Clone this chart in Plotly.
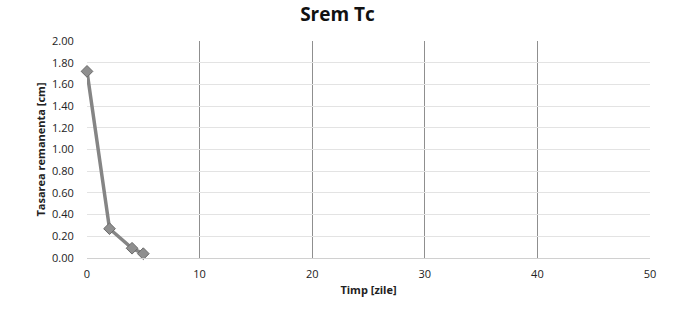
import plotly.graph_objects as go

x_days = [0, 2, 4, 5]
y_tas = [1.72, 0.27, 0.09, 0.04]
x_ticks = [0, 10, 20, 30, 40, 50]
y_ticks = [0.0, 0.2, 0.4, 0.6, 0.8, 1.0, 1.2, 1.4, 1.6, 1.8, 2.0]

fig = go.Figure()
fig.add_trace(go.Scatter(
    x=x_days, y=y_tas, mode="lines+markers", cliponaxis=False,
    line=dict(color="#858585", width=3.5),
    marker=dict(symbol="diamond", size=9, color="#8f8f8f", line=dict(color="#6a6a6a", width=1)),
    showlegend=False,
))
fig.update_layout(
    width=675, height=333,
    margin=dict(l=87, r=25, t=41, b=75),
    paper_bgcolor="white", plot_bgcolor="white",
    font=dict(family="Open Sans, Liberation Sans, sans-serif", color="#222", size=11),
    title=dict(text="<b>Srem Tc</b>", x=0.5, xanchor="center", y=0.957, yanchor="middle",
               font=dict(size=19, color="#111")),
)
fig.update_xaxes(
    range=[0, 50], tickvals=x_ticks, showgrid=True, gridcolor="#8f8f8f", gridwidth=1,
    zeroline=False, showline=True, linecolor="#d0d0d0",
    title=dict(text="<b>Timp [zile]</b>", font=dict(size=11), standoff=6),
    ticks="outside", ticklen=6, tickcolor="rgba(0,0,0,0)", tickfont=dict(size=11),
)
fig.update_yaxes(
    range=[0, 2.0], tickvals=y_ticks, tickformat=".2f", showgrid=True, gridcolor="#e3e3e3",
    zeroline=False, showline=False,
    title=dict(text="<b>Tasarea remanenta [cm]</b>", font=dict(size=11), standoff=4),
    ticks="outside", ticklen=10, tickcolor="rgba(0,0,0,0)", tickfont=dict(size=11),
)
fig.write_html("out.html", config={"displayModeBar": False},
               post_script="document.body.style.margin='0';")
